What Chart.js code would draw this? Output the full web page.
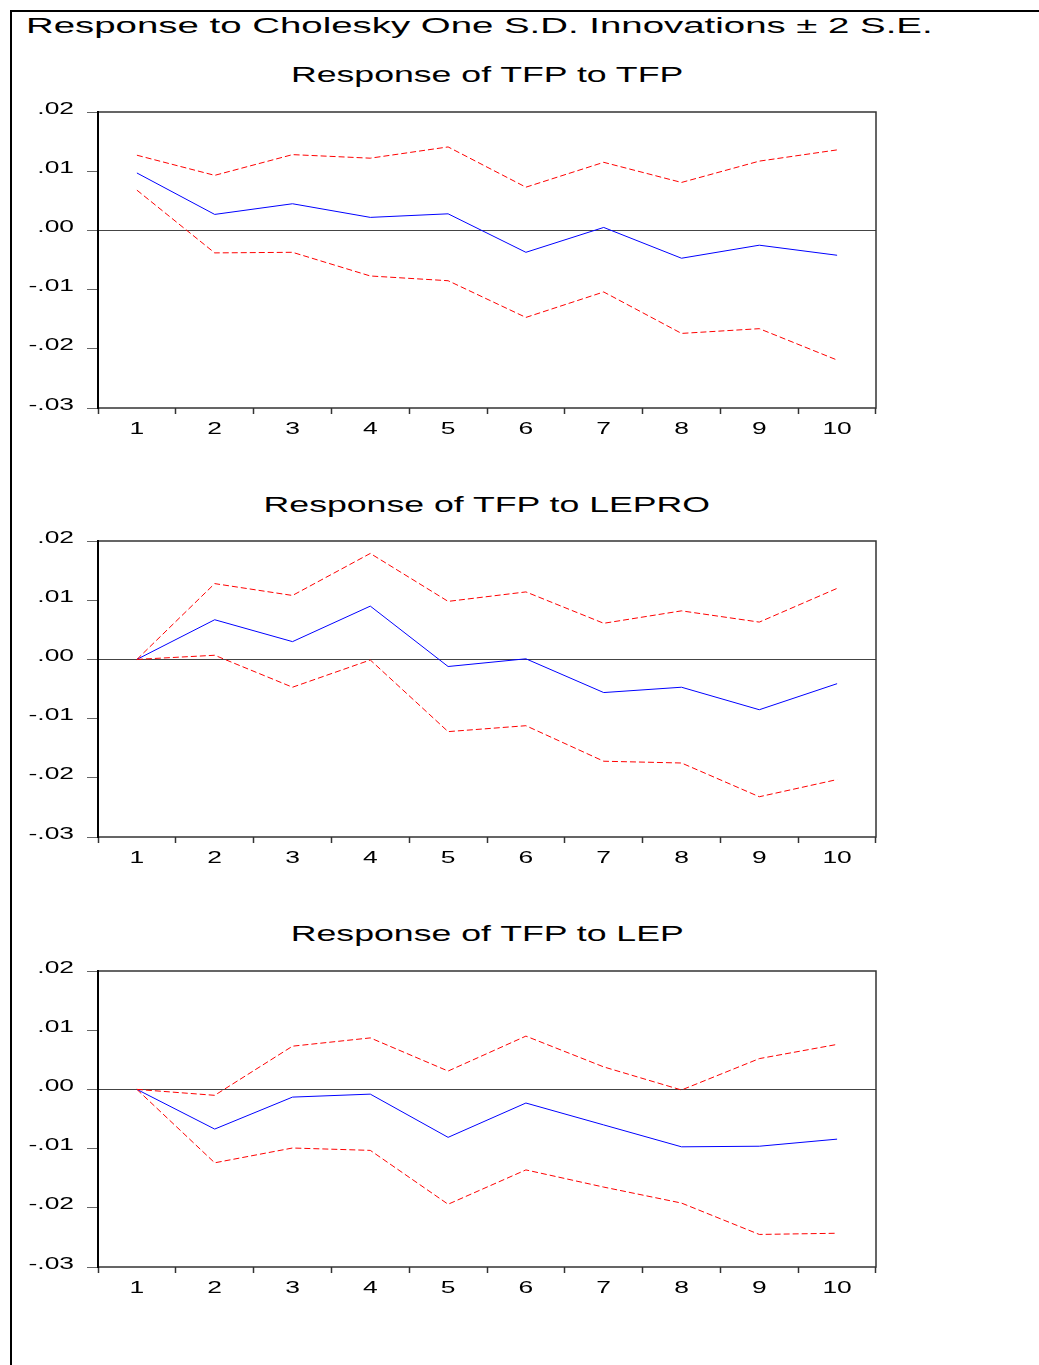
<!DOCTYPE html>
<html>
<head>
<meta charset="utf-8">
<script src="https://cdn.jsdelivr.net/npm/chart.js@4.4.1/dist/chart.umd.min.js"></script>
<style>
  html, body { margin: 0; padding: 0; background: #fff; }
  body { width: 1039px; height: 1365px; position: relative; overflow: hidden; }
  .frame { position: absolute; left: 10px; top: 10px; width: 1040px; height: 1370px;
           border-left: 2px solid #000; border-top: 2px solid #000; }
  .main-title { position: absolute; left: 26px; top: 14.7px; white-space: nowrap;
                font: 22px/22px "Liberation Sans", Arial, sans-serif; color: #000;
                transform: scaleX(1.745); transform-origin: 0 0; }
  .sub { position: absolute; left: 98px; width: 778px; text-align: center; white-space: nowrap;
         font: 22px/22px "Liberation Sans", Arial, sans-serif; color: #000; }
  .sub span { display: inline-block; transform: scaleX(1.62); transform-origin: 50% 0; }
  .panel { position: absolute; left: 0; width: 1039px; height: 340px; }
</style>
</head>
<body>
<div class="frame"></div>
<div class="main-title">Response to Cholesky One S.D. Innovations ± 2 S.E.</div>
<div class="sub" style="top:64px"><span>Response of TFP to TFP</span></div>
<div class="sub" style="top:493.5px"><span>Response of TFP to LEPRO</span></div>
<div class="sub" style="top:923px"><span>Response of TFP to LEP</span></div>
<div class="panel" style="top:100px"><canvas id="c1" width="1039" height="340"></canvas></div>
<div class="panel" style="top:529px"><canvas id="c2" width="1039" height="340"></canvas></div>
<div class="panel" style="top:959px"><canvas id="c3" width="1039" height="340"></canvas></div>
<script>
// Horizon (periods after the shock)
const periods = ['1', '2', '3', '4', '5', '6', '7', '8', '9', '10'];
const yTickValues = [0.02, 0.01, 0.00, -0.01, -0.02, -0.03];
const yTickLabels = ['.02', '.01', '.00', '-.01', '-.02', '-.03'];

// Response of TFP to TFP
const tfpTfpResp  = [0.0097, 0.0027, 0.0045, 0.0022, 0.0028, -0.0037, 0.0005, -0.0047, -0.0025, -0.0042];
const tfpTfpUpper = [0.0127, 0.0093, 0.0128, 0.0122, 0.0141, 0.0073, 0.0115, 0.0081, 0.0117, 0.0136];
const tfpTfpLower = [0.0068, -0.0038, -0.0037, -0.0077, -0.0085, -0.0147, -0.0104, -0.0174, -0.0166, -0.0219];

// Response of TFP to LEPRO
const tfpLeproResp  = [0, 0.0067, 0.0030, 0.0090, -0.0012, 0.0001, -0.0056, -0.0047, -0.0085, -0.0041];
const tfpLeproUpper = [0, 0.0128, 0.0108, 0.0179, 0.0098, 0.0114, 0.0061, 0.0082, 0.0063, 0.0120];
const tfpLeproLower = [0, 0.0007, -0.0047, -0.0001, -0.0122, -0.0112, -0.0172, -0.0175, -0.0232, -0.0203];

// Response of TFP to LEP
const tfpLepResp  = [0, -0.0067, -0.0013, -0.0008, -0.0081, -0.0023, -0.0060, -0.0097, -0.0096, -0.0084];
const tfpLepUpper = [0, -0.0010, 0.0073, 0.0087, 0.0031, 0.0090, 0.0038, -0.0001, 0.0052, 0.0076];
const tfpLepLower = [0, -0.0124, -0.0099, -0.0103, -0.0194, -0.0136, -0.0165, -0.0192, -0.0245, -0.0243];

const LABEL_FONT = '16px "Liberation Sans", Arial, sans-serif';
const LABEL_STRETCH = 1.65;

// Wide tick labels and the closed plot frame
const framePlugin = {
  id: 'irfFrame',
  afterDraw(chart) {
    const ctx = chart.ctx;
    const a = chart.chartArea;
    const xs = chart.scales.x, ys = chart.scales.y;
    ctx.save();
    // frame
    ctx.strokeStyle = '#333';
    ctx.lineWidth = 1.5;
    ctx.strokeRect(a.left, a.top, a.right - a.left, a.bottom - a.top);
    ctx.strokeStyle = '#000';
    ctx.lineWidth = 2;
    ctx.beginPath();
    ctx.moveTo(a.left, a.top - 1);
    ctx.lineTo(a.left, a.bottom + 1);
    ctx.stroke();

    ctx.fillStyle = '#000';
    ctx.font = LABEL_FONT;
    ctx.textBaseline = 'alphabetic';
    // y labels, right aligned beside the tick marks
    ctx.textAlign = 'right';
    yTickValues.forEach((v, i) => {
      const y = ys.getPixelForValue(v);
      ctx.save();
      ctx.translate(74, y + 1.5);
      ctx.scale(LABEL_STRETCH, 1);
      ctx.fillText(yTickLabels[i], 0, 0);
      ctx.restore();
    });
    // x labels, centred under each period
    ctx.textAlign = 'center';
    periods.forEach((p, i) => {
      const x = xs.getPixelForValue(i);
      ctx.save();
      ctx.translate(x, a.bottom + 25.5);
      ctx.scale(LABEL_STRETCH, 1);
      ctx.fillText(p, 0, 0);
      ctx.restore();
    });
    ctx.restore();
  }
};

function makePanel(id, resp, upper, lower) {
  const band = (data) => ({
    data, borderColor: '#ff0000', borderWidth: 1, borderDash: [6, 3],
    pointRadius: 0, fill: false, tension: 0
  });
  return new Chart(document.getElementById(id), {
    type: 'line',
    data: {
      labels: periods,
      datasets: [
        band(upper),
        band(lower),
        { data: resp, borderColor: '#0000ff', borderWidth: 1, pointRadius: 0, fill: false, tension: 0 }
      ]
    },
    options: {
      responsive: false,
      devicePixelRatio: 1,
      animation: false,
      events: [],
      layout: { padding: { left: 0, right: 163, top: 12, bottom: 0 } },
      plugins: { legend: { display: false }, tooltip: { enabled: false }, title: { display: false } },
      scales: {
        x: {
          type: 'category',
          offset: true,
          border: { display: false },
          grid: { offset: true, drawOnChartArea: false, drawTicks: true, tickLength: 6, tickColor: '#333', tickWidth: 1.5 },
          ticks: { display: false },
          afterFit(s) { s.height = 32; }
        },
        y: {
          min: -0.03, max: 0.02,
          border: { display: false },
          grid: {
            drawTicks: true, tickLength: 11, tickColor: '#666', tickWidth: 1,
            color: (c) => (c.tick && Math.abs(c.tick.value) < 1e-9 ? '#444' : 'rgba(0,0,0,0)'),
            lineWidth: 1
          },
          ticks: { display: false, stepSize: 0.01 },
          afterFit(s) { s.width = 98; }
        }
      }
    },
    plugins: [framePlugin]
  });
}

makePanel('c1', tfpTfpResp, tfpTfpUpper, tfpTfpLower);
makePanel('c2', tfpLeproResp, tfpLeproUpper, tfpLeproLower);
makePanel('c3', tfpLepResp, tfpLepUpper, tfpLepLower);
</script>
</body>
</html>
